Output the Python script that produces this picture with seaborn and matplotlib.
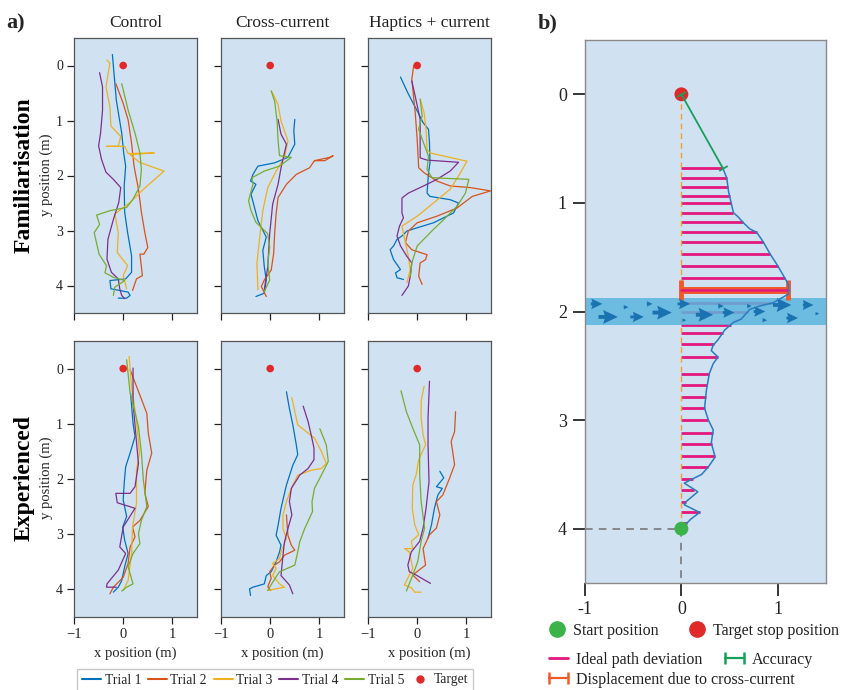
import numpy as np
import pandas as pd
import seaborn as sns
import matplotlib.pyplot as plt
from matplotlib.lines import Line2D
from matplotlib.legend_handler import HandlerLine2D

trials = ['Trial 1', 'Trial 2', 'Trial 3', 'Trial 4', 'Trial 5']
columns = ['Control', 'Cross-current', 'Haptics + current']
row_names = ['Familiarisation', 'Experienced']

# ---- panel a: trajectories (x, y in metres), one list per trial ----
fam_control_x = [
    [-0.22, -0.14, -0.03, 0.01, 0.05, 0.02, 0.03, 0.09, 0.17, 0.17, 0.05, -0.27, -0.25, 0.10, 0.14, 0.07, -0.10],
    [-0.15, 0.00, 0.10, 0.17, 0.22, 0.31, 0.37, 0.44, 0.50, 0.42, 0.34, 0.39, 0.27, 0.19],
    [-0.33, -0.27, -0.35, -0.27, -0.25, -0.05, -0.10, -0.34, 0.03, 0.10, 0.63, 0.14, 0.33, 0.83, 0.41, 0.14, -0.17, -0.10, -0.12, 0.09, 0.00, 0.07],
    [-0.48, -0.42, -0.42, -0.46, -0.50, -0.44, -0.35, -0.20, -0.05, -0.09, -0.20, -0.31, -0.33, -0.24, -0.10, -0.07, -0.03, 0.03],
    [-0.03, 0.10, 0.24, 0.34, 0.37, 0.34, 0.20, 0.07, -0.27, -0.54, -0.48, -0.59, -0.49, -0.34, -0.37, -0.20, 0.03, -0.17, -0.20],
]
fam_control_y = [
    [-0.20, 0.63, 1.23, 1.59, 1.83, 2.19, 2.67, 3.04, 3.46, 3.76, 3.88, 3.91, 4.06, 4.12, 4.18, 4.23, 4.23],
    [0.33, 0.69, 0.99, 1.41, 1.83, 2.25, 2.67, 3.04, 3.31, 3.43, 3.43, 3.82, 3.88, 4.09],
    [-0.10, -0.04, 0.39, 0.75, 1.10, 1.29, 1.47, 1.47, 1.47, 1.60, 1.59, 1.62, 1.76, 1.92, 2.25, 2.49, 2.70, 3.04, 3.40, 3.64, 3.82, 4.06],
    [0.13, 0.39, 0.81, 1.23, 1.46, 1.71, 1.94, 2.07, 2.22, 2.49, 2.80, 3.16, 3.52, 3.76, 3.88, 4.06, 4.18, 4.24],
    [0.33, 0.81, 1.23, 1.59, 1.89, 2.19, 2.43, 2.58, 2.64, 2.72, 2.89, 3.04, 3.43, 3.64, 3.77, 3.85, 3.91, 4.03, 4.18],
]

fam_cross_x = [
    [-0.29, -0.12, -0.08, -0.12, -0.15, -0.08, -0.25, -0.32, -0.39, -0.29, -0.40, -0.35, -0.25, 0.09, 0.36, 0.50, 0.48, 0.50],
    [-0.08, -0.18, -0.12, 0.02, 0.07, 0.09, 0.12, 0.16, 0.33, 0.53, 0.80, 0.90, 1.21, 1.28, 1.11, 0.90],
    [-0.25, -0.27, -0.22, -0.15, -0.05, 0.12, 0.29, 0.36, 0.22, 0.16, 0.03],
    [-0.12, -0.05, -0.01, 0.05, 0.16, 0.22, 0.33, 0.22, 0.16],
    [-0.12, -0.01, -0.05, -0.01, -0.05, -0.29, -0.39, -0.44, -0.35, -0.37, -0.12, 0.19, 0.43, 0.19, 0.16, 0.14, 0.09, 0.02],
]
fam_cross_y = [
    [4.20, 4.14, 3.90, 3.66, 3.36, 3.12, 2.82, 2.58, 2.34, 2.16, 2.10, 1.98, 1.83, 1.77, 1.67, 1.43, 1.19, 0.98],
    [4.20, 4.02, 3.90, 3.72, 3.42, 3.06, 2.70, 2.40, 2.16, 1.98, 1.86, 1.73, 1.67, 1.64, 1.73, 1.73],
    [4.08, 3.60, 3.18, 2.64, 2.22, 1.92, 1.67, 1.37, 1.01, 0.71, 0.47],
    [4.08, 3.66, 3.06, 2.52, 2.16, 1.86, 1.43, 1.25, 0.98],
    [4.11, 3.90, 3.60, 3.30, 3.06, 2.85, 2.64, 2.46, 2.16, 2.04, 1.92, 1.83, 1.67, 1.64, 1.37, 1.01, 0.65, 0.46],
]

fam_haptic_x = [
    [-0.34, -0.19, 0.02, 0.12, 0.23, 0.25, 0.26, 0.23, 0.20, 0.26, 0.67, 0.84, 0.74, 0.33, 0.00, -0.21, -0.31, -0.41, -0.48, -0.55, -0.48, -0.34, -0.44, -0.41, -0.28],
    [-0.07, -0.11, -0.04, 0.00, 0.03, 0.14, 0.40, 0.67, 1.08, 1.49, 1.12, 0.81, 0.40, 0.00, -0.18, -0.24, -0.11, 0.20, 0.17, 0.06, 0.03, 0.10],
    [0.06, 0.14, 0.18, 0.20, 0.26, 1.01, 0.88, 0.67, 0.33, 0.00, -0.31, -0.24, -0.18, -0.14, -0.21],
    [-0.11, -0.04, 0.06, 0.06, 0.20, 0.84, 0.67, 0.40, 0.13, -0.18, -0.31, -0.31, -0.28, -0.36, -0.41, -0.34, -0.21, -0.11, -0.14, -0.18, -0.31],
    [0.06, 0.10, 0.03, 0.13, 0.23, 0.20, 0.30, 1.05, 0.98, 0.81, 0.54, 0.33, 0.00, -0.11, -0.14],
]
fam_haptic_y = [
    [0.21, 0.50, 0.86, 1.04, 1.16, 1.41, 1.77, 1.95, 2.32, 2.38, 2.44, 2.50, 2.68, 2.86, 2.95, 3.01, 3.10, 3.16, 3.28, 3.35, 3.53, 3.71, 3.77, 3.86, 3.89],
    [0.00, 0.25, 0.86, 1.35, 1.86, 1.95, 2.10, 2.19, 2.22, 2.28, 2.38, 2.59, 2.74, 2.86, 3.01, 3.22, 3.35, 3.44, 3.53, 3.59, 3.83, 3.98],
    [0.61, 0.86, 1.16, 1.53, 1.59, 1.74, 1.95, 2.25, 2.50, 2.74, 2.92, 3.22, 3.47, 3.71, 3.95],
    [0.28, 0.56, 0.98, 1.68, 1.72, 1.76, 1.92, 2.07, 2.19, 2.32, 2.41, 2.68, 2.77, 2.92, 3.10, 3.28, 3.47, 3.59, 3.83, 4.01, 4.18],
    [0.61, 0.92, 1.16, 1.41, 1.65, 1.89, 2.04, 2.07, 2.32, 2.56, 2.80, 2.98, 3.28, 3.59, 3.83],
]

exp_control_x = [
    [0.15, 0.20, 0.24, 0.14, 0.05, 0.02, 0.00, 0.07, -0.01, 0.03, 0.10, 0.03, -0.03, -0.10, -0.20],
    [0.14, 0.27, 0.48, 0.51, 0.58, 0.48, 0.44, 0.51, 0.34, 0.19, 0.24, 0.14, 0.10, 0.00, -0.20, -0.27],
    [0.12, 0.17, 0.27, 0.33, 0.27, 0.27, 0.19, 0.17, 0.10, 0.00],
    [0.20, 0.20, 0.26, 0.31, 0.24, 0.14, -0.15, -0.12, 0.24, 0.00, -0.07, 0.05, -0.10, -0.33, -0.34, -0.14],
    [0.07, 0.14, 0.31, 0.37, 0.41, 0.48, 0.37, 0.31, 0.34, 0.20, 0.10, 0.20, 0.07, -0.03],
]
exp_control_y = [
    [0.45, 0.99, 1.23, 1.53, 1.78, 2.08, 2.38, 2.68, 2.87, 3.11, 3.35, 3.59, 3.84, 3.96, 4.05],
    [0.02, 0.32, 0.81, 1.17, 1.53, 1.84, 2.26, 2.50, 2.75, 2.87, 3.05, 3.23, 3.53, 3.78, 3.96, 4.08],
    [-0.22, 0.32, 0.93, 1.53, 1.84, 2.44, 2.87, 3.35, 3.84, 4.02],
    [-0.01, 0.62, 1.23, 1.72, 2.14, 2.26, 2.26, 2.43, 2.53, 2.87, 3.23, 3.35, 3.65, 3.90, 3.96, 3.96],
    [-0.16, 0.44, 1.05, 1.53, 2.02, 2.50, 2.75, 2.99, 3.17, 3.35, 3.59, 3.90, 3.96, 4.03],
]

exp_cross_x = [
    [0.33, 0.39, 0.46, 0.53, 0.56, 0.46, 0.33, 0.22, 0.16, 0.12, 0.22, 0.19, 0.12, 0.02, -0.08, -0.12, -0.35, -0.42, -0.40],
    [0.33, 0.36, 0.43, 0.50, 0.29, 0.19, 0.09, -0.01, 0.02, -0.05, 0.01],
    [0.44, 0.50, 0.56, 0.73, 0.90, 1.04, 1.14, 1.04, 0.84, 0.56, 0.43, 0.33, 0.26, 0.26, 0.33, 0.22, 0.19, 0.05, 0.12, 0.05, 0.19, 0.29, 0.05, -0.05],
    [0.67, 0.77, 0.84, 0.89, 0.89, 0.77, 0.60, 0.43, 0.39, 0.44, 0.36, 0.29, 0.26, 0.22, 0.39, 0.46],
    [1.01, 1.14, 1.18, 1.04, 0.90, 0.85, 0.86, 0.70, 0.60, 0.56, 0.50, 0.19, 0.05, -0.05],
]
exp_cross_y = [
    [0.42, 0.72, 1.02, 1.38, 1.56, 1.75, 2.11, 2.53, 2.84, 3.02, 3.20, 3.32, 3.50, 3.68, 3.75, 3.90, 3.96, 3.99, 4.11],
    [2.65, 3.02, 3.20, 3.29, 3.38, 3.50, 3.56, 3.68, 3.80, 3.95, 4.02],
    [0.53, 0.78, 1.02, 1.14, 1.26, 1.50, 1.72, 1.81, 1.84, 1.93, 2.17, 2.41, 2.65, 2.90, 3.08, 3.32, 3.44, 3.53, 3.62, 3.75, 3.90, 3.96, 4.00, 4.02],
    [0.68, 0.96, 1.23, 1.44, 1.65, 1.81, 1.93, 2.17, 2.41, 2.65, 2.90, 3.14, 3.38, 3.75, 3.92, 4.08],
    [1.09, 1.38, 1.68, 1.93, 2.17, 2.41, 2.59, 2.90, 3.14, 3.32, 3.56, 3.68, 3.87, 4.02],
]

exp_haptic_x = [
    [0.22, 0.29, 0.35, 0.42, 0.51, 0.39, 0.54, 0.46],
    [0.78, 0.76, 0.69, 0.76, 0.66, 0.52, 0.39, 0.46, 0.39, 0.25, 0.12, 0.17, 0.08, -0.09, 0.05],
    [0.14, 0.08, 0.08, 0.12, 0.17, 0.03, -0.02, -0.09, -0.10, -0.05, 0.03, -0.12, -0.09, -0.26, -0.16, -0.09, -0.16, -0.26, -0.12, -0.05, 0.08],
    [0.25, 0.22, 0.22, 0.24, 0.18, 0.12, 0.05, -0.12, -0.19, -0.16, -0.02, 0.15, 0.27],
    [-0.33, -0.22, -0.09, 0.05, 0.05, 0.08, 0.15, 0.08, 0.01, -0.09, -0.22],
]
exp_haptic_y = [
    [3.07, 2.83, 2.53, 2.29, 2.17, 2.14, 1.98, 1.86],
    [0.78, 1.14, 1.32, 1.74, 1.98, 2.29, 2.41, 2.65, 2.89, 3.01, 3.26, 3.56, 3.62, 3.74, 3.86],
    [0.32, 0.59, 0.90, 1.20, 1.38, 1.65, 1.92, 2.11, 2.53, 2.83, 3.01, 3.13, 3.26, 3.26, 3.32, 3.62, 3.74, 3.92, 3.97, 4.05, 4.05],
    [0.23, 0.90, 1.38, 2.05, 2.53, 2.89, 3.13, 3.32, 3.56, 3.68, 3.74, 3.83, 3.89],
    [0.40, 0.78, 1.08, 1.38, 1.92, 2.41, 2.89, 3.13, 3.50, 3.74, 4.03],
]

target_x = [0.0]
target_y = [0.0]

# ---- panel b: example trajectory and annotations ----
path_x = [0.00, 0.10, 0.19, 0.03, 0.05, 0.17, 0.03, 0.21, 0.28, 0.35, 0.31, 0.33, 0.28, 0.24, 0.26, 0.29,
          0.33, 0.38, 0.31, 0.33, 0.38, 0.45, 0.54, 0.62, 0.71, 0.81, 0.95, 1.11, 1.11, 1.00, 0.92, 0.85,
          0.78, 0.71, 0.64, 0.59, 0.54, 0.49, 0.47, 0.43]
path_y = [4.00, 3.91, 3.85, 3.78, 3.75, 3.66, 3.58, 3.50, 3.43, 3.34, 3.21, 3.09, 3.00, 2.89, 2.72, 2.57,
          2.48, 2.42, 2.36, 2.31, 2.26, 2.17, 2.10, 2.07, 1.98, 1.95, 1.92, 1.84, 1.75, 1.58, 1.47, 1.36,
          1.27, 1.24, 1.18, 1.13, 1.09, 0.90, 0.77, 0.68]
deviation_y = [0.68, 0.77, 0.85, 0.94, 1.00, 1.09, 1.18, 1.27, 1.36, 1.47, 1.58, 1.69, 1.80, 1.92, 2.00,
               2.12, 2.20, 2.30, 2.42, 2.58, 2.68, 2.79, 2.89, 3.00, 3.12, 3.22, 3.33, 3.43, 3.54, 3.64,
               3.75, 3.85, 3.95]
start_pos = (0.0, 4.0)
stop_pos = (0.0, 0.0)
end_pos = (0.43, 0.68)
current_band = (1.88, 2.12)
displacement_y = 1.80
displacement_x = 1.11
arrow_x = np.array([-0.94, -0.86, -0.60, -0.53, -0.36, -0.30, -0.04, 0.01, 0.15, 0.38, 0.43, 0.68, 0.75, 0.84, 0.95, 1.09, 1.26, 1.39])
arrow_y = np.array([1.93, 2.05, 1.96, 2.05, 1.93, 2.01, 1.93, 2.08, 2.03, 1.95, 2.01, 1.95, 2.00, 2.08, 1.94, 2.06, 1.94, 2.02])
arrow_len = np.array([0.12, 0.20, 0.05, 0.14, 0.06, 0.20, 0.13, 0.04, 0.18, 0.06, 0.12, 0.05, 0.12, 0.05, 0.19, 0.12, 0.11, 0.04])

# ---- style ----
sns.set_style("ticks")
plt.rcParams['font.family'] = ['Liberation Serif', 'DejaVu Serif']
plt.rcParams['axes.unicode_minus'] = True

trial_colors = ['#0072BD', '#D95319', '#EDB120', '#7E2F8E', '#77AC30']
red = '#E02A2A'
green_dot = '#3BB34A'
acc_green = '#17A05A'
pink = '#E3177D'
disp_orange = '#F05A28'
bg = '#D0E1F2'
text_col = '#222222'

W, H = 843, 690
fig = plt.figure(figsize=(W / 100, H / 100), dpi=100)


def px_axes(x0, y0, x1, y1):
    return fig.add_axes([x0 / W, 1 - y1 / H, (x1 - x0) / W, (y1 - y0) / H])


def panel_frame(xs, ys):
    parts = [pd.DataFrame({'x': x, 'y': y, 'trial': name}) for name, x, y in zip(trials, xs, ys)]
    return pd.concat(parts, ignore_index=True)


panels = [
    [(fam_control_x, fam_control_y), (fam_cross_x, fam_cross_y), (fam_haptic_x, fam_haptic_y)],
    [(exp_control_x, exp_control_y), (exp_cross_x, exp_cross_y), (exp_haptic_x, exp_haptic_y)],
]
col_left = [74, 221, 368]
row_span = [(38, 313), (341, 617)]

for r in range(2):
    for c in range(3):
        ax = px_axes(col_left[c], row_span[r][0], col_left[c] + 123, row_span[r][1])
        ax.set_facecolor(bg)
        df = panel_frame(*panels[r][c])
        sns.lineplot(data=df, x='x', y='y', hue='trial', hue_order=trials, palette=trial_colors,
                     sort=False, estimator=None, lw=0.9, legend=False, ax=ax)
        sns.scatterplot(x=target_x, y=target_y, color=red, s=30, edgecolor='none',
                        legend=False, ax=ax, zorder=5)
        ax.set_xlim(-1, 1.5)
        ax.set_ylim(4.5, -0.5)
        ax.set_xticks([-1, 0, 1])
        ax.set_yticks([0, 1, 2, 3, 4])
        ax.set_xlabel('')
        ax.set_ylabel('')
        ax.tick_params(direction='out', length=5, width=0.9, color=text_col,
                       labelcolor=text_col, pad=3)
        ax.tick_params(axis='x', labelsize=10.5)
        ax.tick_params(axis='y', labelsize=10)
        if c > 0:
            ax.tick_params(axis='y', labelleft=False)
        if r == 0:
            ax.tick_params(axis='x', labelbottom=False)
            fig.text((col_left[c] + 61.5) / W, 1 - 23 / H, columns[c], ha='center', va='center',
                     fontsize=12.5, color=text_col)
        else:
            fig.text((col_left[c] + 61.5) / W, 1 - 653 / H, 'x position (m)', ha='center',
                     va='center', fontsize=10.5, color=text_col)
        for s in ax.spines.values():
            s.set_color('#555555')
            s.set_linewidth(0.9)

for r, yc in enumerate([175, 478]):
    fig.text(24 / W, 1 - yc / H, row_names[r], rotation=90, ha='center', va='center',
             fontsize=17, fontweight='bold', color='black')
    fig.text(46 / W, 1 - yc / H, 'y position (m)', rotation=90, ha='center', va='center',
             fontsize=10.5, color=text_col)

fig.text(6 / W, 1 - 23 / H, 'a)', ha='left', va='center', fontsize=16, fontweight='bold')
fig.text(538 / W, 1 - 23 / H, 'b)', ha='left', va='center', fontsize=16, fontweight='bold')

handles = [Line2D([0], [0], color=col, lw=1.5) for col in trial_colors]
handles.append(Line2D([0], [0], marker='o', ls='none', color=red, ms=5))
fig.legend(handles, trials + ['Target'], loc='center', bbox_to_anchor=(275 / W, 1 - 680 / H),
           ncol=6, fontsize=9.8, handlelength=1.4, handletextpad=0.25, columnspacing=0.5,
           frameon=True, fancybox=False, edgecolor='#BBBBBB', borderpad=0.35)

# ---- panel b ----
axb = px_axes(585, 40, 826, 583)
axb.set_facecolor(bg)
dev_len = np.interp(deviation_y, path_y[::-1], path_x[::-1])
axb.hlines(deviation_y, 0, dev_len, color=pink, lw=2, zorder=1.5)
axb.plot([0, 0], [stop_pos[1], start_pos[1]], ls='--', dashes=(4, 3), color='#F0A030', lw=1, zorder=1.8)
axb.axhspan(*current_band, color='#5BB5DD', alpha=0.85, lw=0, zorder=2)
for lo, hi, w in [(0, 0.08, 0.008), (0.08, 0.16, 0.012), (0.16, 1, 0.016)]:
    sel = (arrow_len >= lo) & (arrow_len < hi)
    axb.quiver(arrow_x[sel], arrow_y[sel], arrow_len[sel], np.zeros(sel.sum()), angles='xy',
               scale_units='xy', scale=1, width=w, headwidth=3.6, headlength=3.8, headaxislength=3.4,
               color='#1A72B0', zorder=4)
axb.plot([0, displacement_x], [displacement_y, displacement_y], color=disp_orange, lw=5,
         solid_capstyle='butt', zorder=3)
axb.plot([0, displacement_x], [displacement_y, displacement_y], ls='none', marker='|', ms=15,
         mew=3.5, color=disp_orange, zorder=3)
axb.plot([0, displacement_x], [displacement_y, displacement_y], color=pink, lw=1.8, zorder=3.2)
axb.plot([-1, 0], [start_pos[1], start_pos[1]], ls='--', dashes=(5, 4), color='#707070', lw=1.1, zorder=1.8)
axb.plot([0, 0], [start_pos[1], 4.5], ls='--', dashes=(5, 4), color='#707070', lw=1.1, zorder=1.8)
sns.lineplot(x=path_x, y=path_y, sort=False, estimator=None, color='#2B7BBF', lw=1.1, ax=axb, zorder=5)
sns.scatterplot(x=[start_pos[0]], y=[start_pos[1]], color=green_dot, s=100, edgecolor='none', ax=axb, zorder=6)
sns.scatterplot(x=[stop_pos[0]], y=[stop_pos[1]], color=red, s=100, edgecolor='none', ax=axb, zorder=6)
axb.plot([stop_pos[0], end_pos[0]], [stop_pos[1], end_pos[1]], color=acc_green, lw=1.3, zorder=7)
axb.plot([stop_pos[0], end_pos[0]], [stop_pos[1], end_pos[1]], ls='none', marker=(2, 0, -60),
         ms=7, mew=1.3, color=acc_green, zorder=7)
axb.set_xlim(-1, 1.5)
axb.set_ylim(4.5, -0.5)
axb.set_xticks([-1, 0, 1])
axb.set_xticklabels(['-1', '0', '1'])
axb.set_yticks([0, 1, 2, 3, 4])
axb.set_xlabel('')
axb.set_ylabel('')
axb.tick_params(direction='out', length=9, width=1.1, color='black', labelsize=13,
                labelcolor=text_col, pad=4)
for s in axb.spines.values():
    s.set_color('#8A8A8A')
    s.set_linewidth(1)

leg_kw = dict(frameon=False, fontsize=11.5, borderpad=0, borderaxespad=0,
              handletextpad=0.5, labelcolor=text_col)
h_start = Line2D([0], [0], marker='o', ls='none', color=green_dot, ms=11)
h_stop = Line2D([0], [0], marker='o', ls='none', color=red, ms=11)
fig.legend([h_start, h_stop], ['Start position', 'Target stop position'], loc='center left',
           bbox_to_anchor=(549 / W, 1 - 631 / H), ncol=2, numpoints=1, handlelength=1.0,
           columnspacing=1.9, **leg_kw)
h_dev = Line2D([0], [0], color=pink, lw=2)
h_acc = Line2D([0], [0], color=acc_green, lw=1.6, marker='|', ms=9, mew=1.8)
h_disp = Line2D([0], [0], color=disp_orange, lw=1.6, marker='|', ms=9, mew=1.8)
cap_handler = HandlerLine2D(numpoints=2, marker_pad=0)
fig.legend([h_dev, h_acc], ['Ideal path deviation', 'Accuracy'], loc='center left',
           bbox_to_anchor=(549 / W, 1 - 660 / H), ncol=2, handlelength=1.2, columnspacing=1.4,
           handler_map={h_acc: cap_handler}, **leg_kw)
fig.legend([h_disp], ['Displacement due to cross-current'], loc='center left',
           bbox_to_anchor=(549 / W, 1 - 680 / H), handlelength=1.2,
           handler_map={h_disp: cap_handler}, **leg_kw)

fig.savefig('out.png', dpi=100)
